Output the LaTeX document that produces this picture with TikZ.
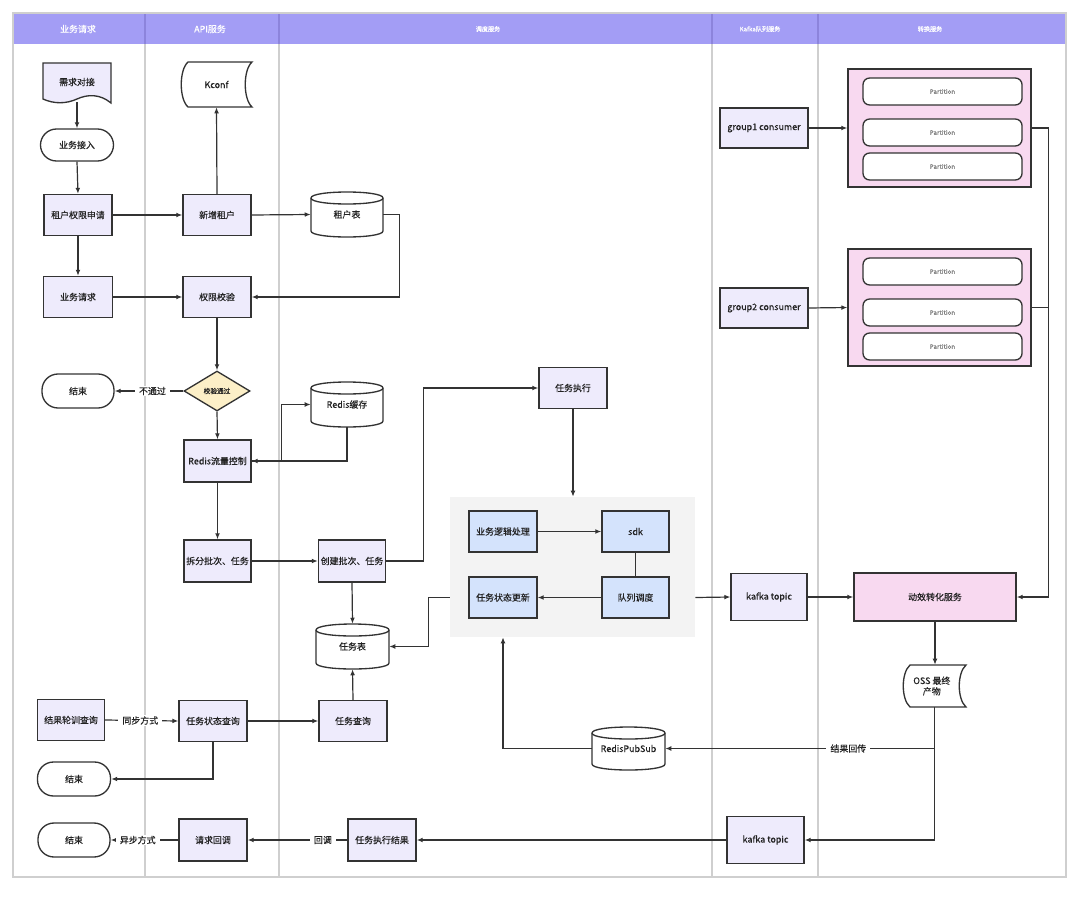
\documentclass[tikz,border=0pt]{standalone}
\usepackage{fontspec}
\setmainfont{Noto Sans CJK SC}[FakeBold=0.35]
\usetikzlibrary{arrows.meta,shapes.geometric,calc}
\definecolor{hdr}{HTML}{A39DF5}
\definecolor{hdrline}{HTML}{8C84DC}
\definecolor{lav}{HTML}{EEEBFC}
\definecolor{blu}{HTML}{D4E3FC}
\definecolor{pnk}{HTML}{F8D9F0}
\definecolor{ylw}{HTML}{FCEFC7}
\definecolor{gry}{HTML}{F3F3F3}
\definecolor{edge}{HTML}{333333}
\definecolor{lane}{HTML}{CFCFCF}
\definecolor{txtc}{HTML}{222222}
\newcommand\cylshape[4]{%
  \filldraw[shp,fill=white] (#1,#2+6) .. controls (#1,#2-2) and (#3,#2-2) .. (#3,#2+6) -- (#3,#4-6) .. controls (#3,#4+2) and (#1,#4+2) .. (#1,#4-6) -- cycle;
  \draw[shp] (#1,#2+6) .. controls (#1,#2+14) and (#3,#2+14) .. (#3,#2+6);
}
\begin{document}
\begin{tikzpicture}[x=0.75pt,y=-0.75pt,
  sz/.style 2 args={minimum width=#1*0.75pt, minimum height=#2*0.75pt},
  base/.style={inner sep=0pt, align=center, font=\fontsize{6.7}{8.5}\selectfont, text=txtc},
  box/.style={base, draw=edge, line width=1pt, fill=lav, rectangle},
  bbox/.style={box, fill=blu},
  ghost/.style={base, rectangle},
  term/.style={base, draw=edge, line width=1pt, fill=white, rounded corners=12pt, rectangle},
  shp/.style={draw=edge, line width=1pt},
  arr/.style={draw=edge, line width=0.9pt, -{Latex[length=4.5pt,width=3.6pt]}},
  ln/.style={draw=edge, line width=0.9pt},
  lbl/.style={base, fill=white, inner xsep=3pt, inner ysep=1pt},
  hd/.style={text=white, font=\fontsize{6.7}{8}\selectfont},
  hds/.style={text=white, font=\fontsize{4.6}{6}\selectfont},
  part/.style={draw=edge, line width=1pt, fill=white, rounded corners=5pt, inner sep=0pt, font=\fontsize{4.7}{6}\selectfont, text=gray},
]
\useasboundingbox (0,0) rectangle (1080,920);
% frame and lanes
\fill[hdr] (13,13) rectangle (1066,44);
\foreach \xx in {145,279,712,818} {
  \draw[lane, line width=0.8pt] (\xx,44) -- (\xx,877);
  \draw[hdrline, line width=0.8pt] (\xx,13) -- (\xx,44);
}
\draw[lane, line width=0.8pt] (13,13) rectangle (1066,877);
\node[hd] (h1) at (78,29) {业务请求};
\node[hd] (h2) at (210,29) {API服务};
\node[hds] (h3) at (488,29) {调度服务};
\node[hds] (h4) at (760,29) {Kafka队列服务};
\node[hds] (h5) at (930,29) {转换服务};

% ---- lane 1
\filldraw[shp,fill=lav] (111,103) .. controls (100,94) and (88,94) .. (77,99) .. controls (66,104) and (54,104) .. (43,99) -- (43,63) -- (111,63) -- cycle;
\node[ghost, sz={68}{40}] (xq) at (77,82) {需求对接};
\node[term, sz={73}{32}] (jr) at (77,145) {业务接入};
\node[box, sz={68}{41}] (sq) at (78,215) {租户权限申请};
\node[box, sz={69}{41}] (yq) at (78,297) {业务请求};
\node[term, sz={72}{34}] (end1) at (78,391) {结束};
\node[box, sz={67}{41}] (lx) at (71,720) {结果轮训查询};
\node[term, sz={73}{34}] (end2) at (74,779) {结束};
\node[term, sz={72}{34}] (end3) at (74,840) {结束};

% ---- lane 2
\filldraw[shp,fill=white] (188,62) -- (252,62) .. controls (243,70) and (243,99) .. (252,107) -- (188,107) .. controls (179,99) and (179,70) .. (188,62) -- cycle;
\node[ghost, sz={71}{45}] (kc) at (216.5,84.5) {Kconf};
\node[box, sz={68}{41}] (xz) at (217,215) {新增租户};
\node[box, sz={68}{41}] (qx) at (217,297) {权限校验};
\node[diamond, draw=edge, line width=1pt, fill=ylw, aspect=1.65, inner sep=0pt, sz={66}{40}, font=\fontsize{5}{6}\selectfont, text=txtc] (jy) at (217,391) {校验通过};
\node[box, sz={67}{42}] (rl) at (217.5,461) {Redis流量控制};
\node[box, sz={67}{42}] (cf) at (217.5,561) {拆分批次、任务};
\node[box, sz={68}{41}] (ztc) at (213,721) {任务状态查询};
\node[box, sz={68}{42}] (hd) at (213,840) {请求回调};

% ---- lane 3
\cylshape{311}{192}{383}{237}
\node[ghost, sz={72}{45}] (zb) at (347,214.5) {\raisebox{-2.8pt}{租户表}};
\cylshape{311}{382}{383}{427}
\node[ghost, sz={72}{45}] (rc) at (347,404.5) {\raisebox{-2.8pt}{Redis缓存}};
\node[box, sz={67}{42}] (cj) at (352,561) {创建批次、任务};
\cylshape{316}{624}{389}{669}
\node[ghost, sz={73}{45}] (rwb) at (352.5,646.5) {\raisebox{-2.8pt}{任务表}};
\node[box, sz={68}{41}] (rcx) at (353,721) {任务查询};
\node[box, sz={68}{42}] (jg) at (382,840) {任务执行结果};
\node[box, sz={68}{41}] (rw) at (573,388) {任务执行};
\node[fill=gry, sz={245}{140}, inner sep=0pt] (cont) at (572.5,567) {};
\node[bbox, sz={68}{41}] (ywl) at (503,531.5) {业务逻辑处理};
\node[bbox, sz={67}{41}] (sdk) at (635.5,531.5) {sdk};
\node[bbox, sz={68}{41}] (ztg) at (503,597.5) {任务状态更新};
\node[bbox, sz={67}{41}] (dd) at (635.5,597.5) {队列调度};
\cylshape{592}{727}{665}{770}
\node[ghost, sz={73}{43}] (rps) at (628.5,748.5) {\raisebox{-2.8pt}{RedisPubSub}};

% ---- lane 4
\node[box, sz={88}{40}] (g1) at (764,128) {group1 consumer};
\node[box, sz={88}{40}] (g2) at (764,308) {group2 consumer};
\node[box, sz={76}{47}] (kt1) at (769,597) {kafka topic};
\node[box, sz={77}{47}] (kt2) at (765.5,840) {kafka topic};

% ---- lane 5
\node[draw=edge, line width=1pt, fill=pnk, sz={183}{118}, inner sep=0pt] (pb1) at (939.5,128) {};
\node[part, sz={159}{27}] (p11) at (942.5,91.5) {Partition};
\node[part, sz={159}{27}] (p12) at (942.5,132.5) {Partition};
\node[part, sz={159}{27}] (p13) at (942.5,166.5) {Partition};
\node[draw=edge, line width=1pt, fill=pnk, sz={183}{117}, inner sep=0pt] (pb2) at (939.5,307.5) {};
\node[part, sz={159}{27}] (p21) at (942.5,271.5) {Partition};
\node[part, sz={159}{27}] (p22) at (942.5,312.5) {Partition};
\node[part, sz={159}{27}] (p23) at (942.5,346.5) {Partition};
\node[box, fill=pnk, sz={162}{48}] (dx) at (935,597) {动效转化服务};
\filldraw[shp,fill=white] (910,665) -- (966,665) .. controls (957,673) and (957,699) .. (966,707) -- (910,707) .. controls (901,699) and (901,673) .. (910,665) -- cycle;
\node[ghost, sz={63}{42}] (oss) at (934.5,686) {\hspace{-4pt}OSS 最终\\[-0.5pt]\hspace{-4pt}产物};

% ---- connectors
\draw[arr] (xq.south) -- (jr.north);
\draw[arr] (jr.south) -- (sq.north);
\draw[arr] (sq.south) -- (yq.north);
\draw[arr] (sq.east) -- (xz.west);
\draw[arr] (xz.north) -- (kc.south);
\draw[arr] (xz.east) -- (zb.west);
\draw[arr] (zb.east) -- ++(16,0) |- (qx.east);
\draw[arr] (yq.east) -- (qx.west);
\draw[arr] (qx.south) -- (jy.north);
\draw[arr] (jy.west) -- node[lbl, pos=0.45] {不通过} (end1.east);
\draw[arr] (jy.south) -- (rl.north);
\draw[arr] (rc.south) |- (rl.east);
\draw[arr] (rl.east) -- ++(30,0) |- (rc.west);
\draw[arr] (rl.south) -- (cf.north);
\draw[arr] (cf.east) -- (cj.west);
\draw[arr] (cj.east) -- ++(37,0) |- (rw.west);
\draw[arr] (cj.south) -- (rwb.north);
\draw[arr] (rw.south) -- (rw.south |- cont.north);
\draw[arr] (ywl.east) -- (sdk.west);
\draw[ln] (sdk.south) -- (dd.north);
\draw[arr] (dd.west) -- (ztg.east);
\draw[arr] (cont.west |- ztg.west) -- ++(-21,0) |- (rwb.east);
\draw[arr] (cont.east |- dd.east) -- (kt1.west);
\draw[arr] (kt1.east) -- (dx.west);
\draw[arr] (g1.east) -- (pb1.west);
\draw[arr] (g2.east) -- (pb2.west);
\draw[arr] (pb1.east) -- ++(17,0) |- (dx.east);
\draw[ln] (pb2.east) -- ++(17,0);
\draw[arr] (dx.south) -- (dx.south |- oss.north);
\draw[arr] (oss.south) |- node[lbl, pos=0.66] {结果回传} (rps.east);
\draw[arr] (oss.south) |- (kt2.east);
\draw[arr] (rps.west) -| (ywl.south |- cont.south);
\draw[arr] (kt2.west) -- (jg.east);
\draw[arr] (jg.west) -- node[lbl, pos=0.245] {回调} (hd.east);
\draw[arr] (hd.west) -- node[lbl, pos=0.6] {异步方式} (end3.east);
\draw[arr] (lx.east) -- node[lbl, pos=0.48] {同步方式} (ztc.west);
\draw[arr] (ztc.east) -- (rcx.west);
\draw[arr] (rcx.north) -- (rwb.south);
\draw[arr] (ztc.south) |- (end2.east);
\end{tikzpicture}
\end{document}
